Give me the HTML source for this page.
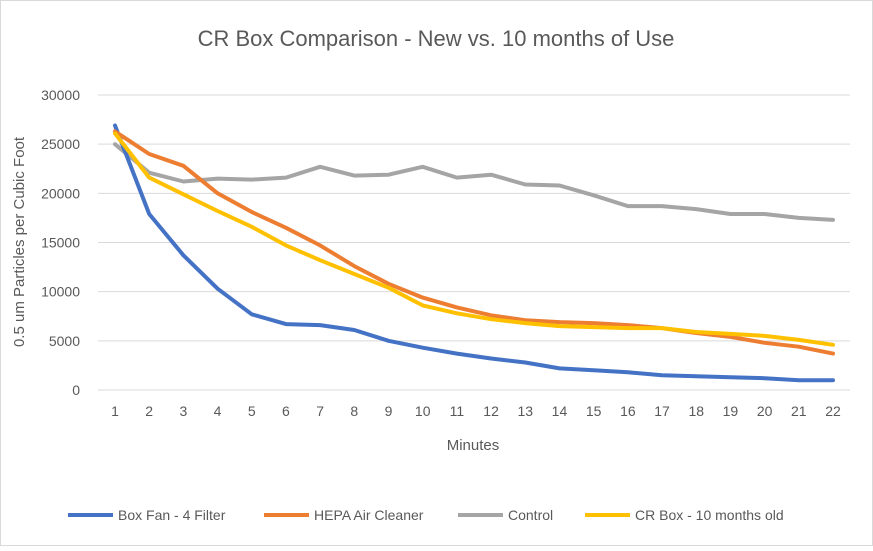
<!DOCTYPE html>
<html><head><meta charset="utf-8"><style>
body{margin:0;background:#fff;}
svg text{font-family:"Liberation Sans",sans-serif;fill:#595959;}
</style></head><body>
<svg id="s" width="873" height="546" xmlns="http://www.w3.org/2000/svg">
<rect x="0.5" y="0.5" width="872" height="545" fill="#fff" stroke="#d9d9d9"/>
<text x="436" y="46" font-size="22" text-anchor="middle">CR Box Comparison - New vs. 10 months of Use</text>
<text transform="translate(24,242) rotate(-90)" font-size="15" text-anchor="middle">0.5 um Particles per Cubic Foot</text>
<text x="473" y="450" font-size="15" text-anchor="middle">Minutes</text>
<g id="g"></g>
<g font-size="14">
<line x1="68" y1="515" x2="113" y2="515" stroke="#4472c4" stroke-width="4"/><text x="118" y="520">Box Fan - 4 Filter</text>
<line x1="264" y1="515" x2="309" y2="515" stroke="#ed7d31" stroke-width="4"/><text x="314" y="520">HEPA Air Cleaner</text>
<line x1="458" y1="515" x2="503" y2="515" stroke="#a5a5a5" stroke-width="4"/><text x="508" y="520">Control</text>
<line x1="585" y1="515" x2="630" y2="515" stroke="#ffc000" stroke-width="4"/><text x="635" y="520">CR Box - 10 months old</text>
</g>
</svg>
<script>
var g=document.getElementById('g'),h='';
function Y(v){return 390-v*295/30000;}
function X(i){return 115+i*(718/21);}
for(var v=0;v<=30000;v+=5000){var y=Y(v);h+='<line x1="98" x2="850" y1="'+y+'" y2="'+y+'" stroke="#d9d9d9"/>';h+='<text x="80" y="'+(y+5)+'" font-size="14" text-anchor="end">'+v+'</text>';}
for(var i=0;i<22;i++)h+='<text x="'+X(i)+'" y="416" font-size="14" text-anchor="middle">'+(i+1)+'</text>';
var d=[["#a5a5a5",[25000,22100,21200,21500,21400,21600,22700,21800,21900,22700,21600,21900,20900,20800,19800,18700,18700,18400,17900,17900,17500,17300]],
["#4472c4",[26900,17900,13700,10300,7700,6700,6600,6100,5000,4300,3700,3200,2800,2200,2000,1800,1500,1400,1300,1200,1000,1000]],
["#ed7d31",[26300,24000,22800,20000,18100,16500,14700,12600,10800,9400,8400,7600,7100,6900,6800,6600,6300,5800,5400,4800,4400,3700]],
["#ffc000",[26100,21600,19900,18200,16600,14700,13200,11800,10400,8600,7800,7200,6800,6500,6400,6300,6300,5900,5700,5500,5100,4600]]];
d.forEach(function(s){var p=s[1].map(function(v,i){return X(i).toFixed(1)+','+Y(v).toFixed(1)}).join(' ');
h+='<polyline points="'+p+'" fill="none" stroke="'+s[0]+'" stroke-width="4" stroke-linejoin="round" stroke-linecap="round"/>';});
g.innerHTML=h;
</script>
</body></html>
